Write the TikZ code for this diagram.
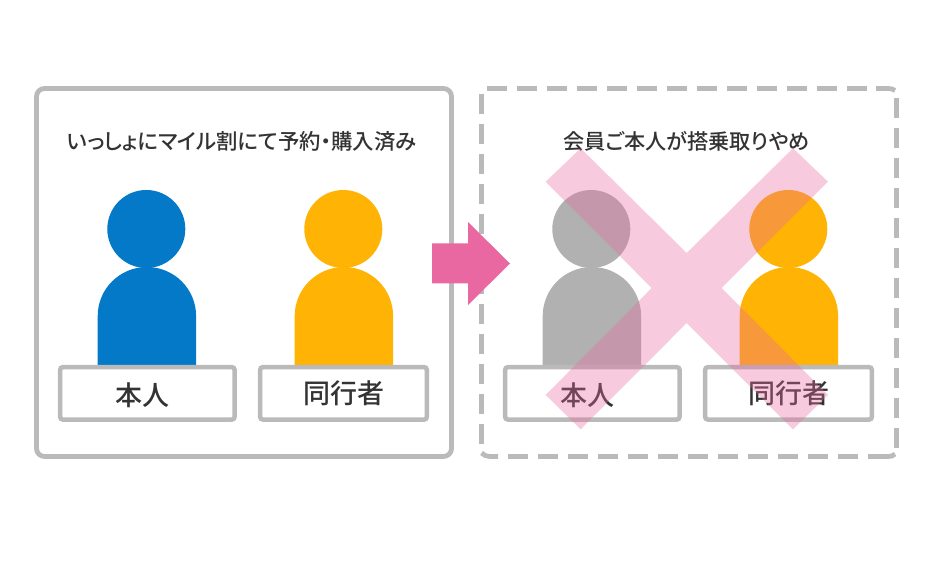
\documentclass[tikz,border=0pt]{standalone}
\usepackage{fontspec}
\newfontfamily\jp[RawFeature={+palt}]{Noto Sans CJK JP Medium}
\newfontfamily\jpm{Noto Sans CJK JP Medium}
\definecolor{framegray}{HTML}{BABABA}
\definecolor{inkdark}{HTML}{333333}
\definecolor{pblue}{HTML}{0379C7}
\definecolor{pyellow}{HTML}{FFB305}
\definecolor{pgray}{HTML}{B1B1B1}
\definecolor{ppink}{HTML}{EA68A2}
\tikzset{
  x=1pt,y=-1pt,
  framebox/.style={draw=framegray,line width=4.8pt,rounded corners=8pt,fill=white},
  dashside/.style={draw=framegray,line width=4.8pt,dash pattern=on 20pt off 10pt},
  cornerdash/.style={draw=framegray,line width=4.8pt},
  namebox/.style={draw=framegray,line width=4.5pt,rounded corners=2.5pt,fill=white},
  nametext/.style={text=inkdark,font=\jpm\fontsize{27}{30}\selectfont,inner sep=0pt,anchor=center},
  titletext/.style={text=inkdark,font=\jp\fontsize{21.4}{24}\selectfont,inner sep=0pt,anchor=center},
  titletextb/.style={text=inkdark,font=\jp\fontsize{21.2}{24}\selectfont,inner sep=0pt,anchor=center},
}
\newcommand{\person}[2]{%
  \fill[#2] (#1,229) circle[radius=39];
  \fill[#2] (#1-48.6,366) -- (#1-48.6,316) arc[start angle=180,end angle=0,x radius=49.2,y radius=-49] -- (#1+49.8,366) -- cycle;
}
\begin{document}
\begin{tikzpicture}
\useasboundingbox (0,0) rectangle (930,575);
\fill[white] (0,0) rectangle (930,575);
% left frame
\draw[framebox] (36.5,88.5) rectangle (451.5,456.5);
% right frame, dashed side by side
\draw[dashside] (486.7,88.5) -- (870,88.5);
\draw[cornerdash] (876,88.5) -- (888,88.5) .. controls (891,88.5) and (893,89) .. (895,90.5);
\draw[dashside] (896.5,98) -- (896.5,450);
\draw[cornerdash] (868,456.5) -- (888,456.5) .. controls (891,456.5) and (893,456) .. (895,454);
\draw[dashside] (858,456.5) -- (506,456.5);
\draw[cornerdash] (498,456.5) -- (490,456.5) .. controls (487,456.5) and (484,455.5) .. (481.5,453);
\draw[dashside] (481.3,94) -- (481.3,446);
\node[titletext] (t1) at (242,141) {いっしょにマイル割にて予約・購入済み};
\node[titletextb] (t2) at (686.5,141) {会員ご本人が搭乗取りやめ};
\person{146.3}{pblue}
\person{343.3}{pyellow}
\person{591.3}{pgray}
\person{788.3}{pyellow}
\draw[namebox] (60.2,367.2) rectangle (234.5,419.5);
\draw[namebox] (260.2,367.2) rectangle (426.8,419.5);
\draw[namebox] (505.2,367.2) rectangle (679.5,419.5);
\draw[namebox] (705.2,367.2) rectangle (871.8,419.5);
\node[nametext] (n1) at (142,395) {本人};
\node[nametext] (n2) at (343.5,393) {同行者};
\node[nametext] (n3) at (587,395) {本人};
\node[nametext] (n4) at (788.5,393) {同行者};
% arrow
\fill[ppink] (432,243.3) -- (468,243.3) -- (468,222) -- (510,263.5) -- (468,305) -- (468,283.3) -- (432,283.3) -- cycle;
% cross
\fill[ppink,fill opacity=.35] (545.7,181.7) -- (580.7,148.3) -- (686.7,253) -- (793,148.3) -- (828,181.7) -- (721.7,288) -- (828,395) -- (793,429.3) -- (686.7,323) -- (580.7,429.3) -- (545.7,395) -- (651.7,288) -- cycle;
\end{tikzpicture}
\end{document}
